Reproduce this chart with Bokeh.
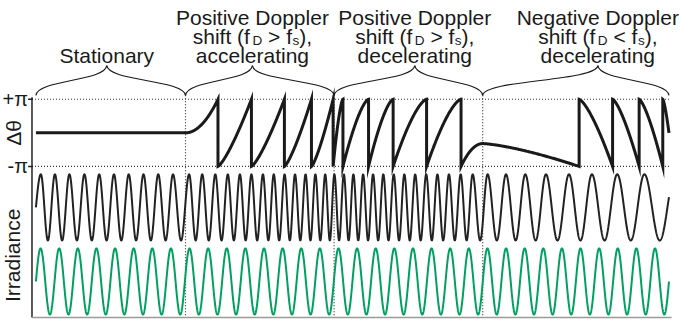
import numpy as np
from bokeh.plotting import figure
from bokeh.models import Range1d, ColumnDataSource
from bokeh.core.properties import value
from bokeh.embed import file_html
from bokeh.resources import INLINE

# ---------------- data (x = time, arbitrary units) ----------------
section_edges = [40, 192, 343, 494, 683.3]
header_titles = ["Stationary", "Positive Doppler", "Positive Doppler", "Negative Doppler"]
header_relation = [None, ">", ">", "<"]
header_motion = [None, "accelerating", "decelerating", "decelerating"]

# phase difference: piecewise segments (values in units of pi)
dtheta_x0 = [40, 192, 225, 259, 292.5, 320, 342, 352, 378, 403, 437, 472, 494, 592, 626, 653, 677]
dtheta_x1 = [192, 225, 259, 292.5, 320, 342, 352, 378, 403, 437, 472, 494, 592, 626, 653, 677, 683.3]
dtheta_v0 = [0, 0, -1, -1, -1, -1, -1, -1, -1, -1, -1, -1, -0.32, 1, 1, 1, 1]
dtheta_v1 = [0, 1, 1, 1, 1, 1, 1, 1, 1, 1, 1, -0.32, -1, -1, -1, -1, 0]
dtheta_ease = ["in", "in", "in", "in", "in", "in", "out", "out", "out", "out", "out", "out",
               "in", "in", "in", "in", "in"]
dtheta_power = [1, 2, 1.3, 1.3, 1.3, 1.3, 1.5, 1.5, 1.5, 1.5, 1.5, 2, 1.4, 1.4, 1.4, 1.4, 1.4]

# signal irradiance (black): positions of its maxima
black_peaks = [45, 59.3, 74, 89.3, 104.3, 119.3, 134.3, 149.3, 164.3, 179.3,
               195.7, 209, 222.3, 235, 247.3, 259, 270.7, 281.7, 292.7, 303.3, 314, 324, 334, 343.3,
               352.9, 362.6, 372.5, 382.6, 393.0, 403.6, 414.4, 425.4, 436.6, 448.0, 459.7, 471.6, 483.8,
               499, 517.7, 537.3, 558.3, 581.7, 605, 630.7, 658.3]
black_start, black_end = 40, 683.3
black_end_extra_cycles = 0.8

# reference irradiance (green): constant frequency
green_start, green_end, green_cycles = 40, 683.3, 34

# ---------------- layout ----------------
X0, X1 = 4, 694
Y_BOT, Y_TOP = 335, 12
p = figure(width=679, height=319, x_range=Range1d(X0, X1), y_range=Range1d(Y_BOT, Y_TOP),
           output_backend="svg", toolbar_location=None, min_border=0,
           x_axis_type=None, y_axis_type=None)
p.outline_line_color = None
p.background_fill_color = "white"
p.border_fill_color = "white"


def band(v_top, v_bot, y_top, y_bot, frame_top=Y_TOP, frame_bot=Y_BOT):
    k = (v_top - v_bot) / (y_bot - y_top)
    return Range1d(start=v_bot - (frame_bot - y_bot) * k, end=v_top + (y_top - frame_top) * k)


p.extra_y_ranges = {
    "dtheta": band(np.pi, -np.pi, 112, 180),
    "black": band(1, -1, 188, 255),
    "green": band(1, -1, 263, 330),
}

AX_X = 36
RIGHT_X = 685
PANEL_TOP, PANEL_BOT = 110, 333
INK = "#1a1a1a"
FONT = value("Liberation Sans")

# dotted guides
p.segment(x0=section_edges[1:4], x1=section_edges[1:4], y0=[108] * 3, y1=[PANEL_BOT] * 3,
          line_color="#333333", line_width=1.2, line_dash="1 2")
p.segment(x0=[AX_X, AX_X], x1=[RIGHT_X, RIGHT_X], y0=[np.pi, -np.pi], y1=[np.pi, -np.pi],
          y_range_name="dtheta", line_color="#333333", line_width=1.2, line_dash="1 2")

# axes lines
p.segment(x0=[AX_X], x1=[AX_X], y0=[PANEL_TOP], y1=[PANEL_BOT], line_color="#222222", line_width=1.5)
p.segment(x0=[AX_X], x1=[686], y0=[PANEL_BOT], y1=[PANEL_BOT], line_color="#9a9a9a", line_width=1.5)
p.segment(x0=[32, 32], x1=[AX_X + 1, AX_X + 1], y0=[np.pi, -np.pi], y1=[np.pi, -np.pi],
          y_range_name="dtheta", line_color="#222222", line_width=1.5)
p.text(x=[32, 32], y=[np.pi, -np.pi], text=["+π", "-π"], y_range_name="dtheta",
       text_align="right", text_baseline="middle", text_font_size="20px",
       text_font=FONT, text_color=INK)

# axis titles (rotated)
p.text(x=[17], y=[146], text=["Δθ"], angle=np.pi / 2, text_align="center",
       text_baseline="middle", text_font_size="21px", text_font=FONT, text_color=INK)
p.text(x=[16], y=[270], text=["Irradiance"], angle=np.pi / 2, text_align="center",
       text_baseline="middle", text_font_size="21px", text_font=FONT, text_color=INK)

# phase difference curve
dx, dy = [], []
for x0, x1, v0, v1, ease, pw in zip(dtheta_x0, dtheta_x1, dtheta_v0, dtheta_v1, dtheta_ease, dtheta_power):
    s = np.linspace(0, 1, 120)
    f = s ** pw if ease == "in" else 1 - (1 - s) ** pw
    dx.extend(x0 + (x1 - x0) * s)
    dy.extend(np.pi * (v0 + (v1 - v0) * f))
p.line(dx, dy, y_range_name="dtheta", line_color=INK, line_width=3, line_join="miter")

# black irradiance
knot_x = [black_start] + black_peaks + [black_end]
knot_c = [0] + [k + 0.25 for k in range(len(black_peaks))] + [len(black_peaks) - 0.75 + black_end_extra_cycles]
bx = np.linspace(black_start, black_end, 4000)
by = np.sin(2 * np.pi * np.interp(bx, knot_x, knot_c))
p.line(bx, by, y_range_name="black", line_color="#222222", line_width=2)

# green irradiance
gx = np.linspace(green_start, green_end, 4000)
gy = np.sin(2 * np.pi * green_cycles * (gx - green_start) / (green_end - green_start))
p.line(gx, gy, y_range_name="green", line_color="#00a060", line_width=2)

# braces
brace_tip_x = [112, 260, 425, 611]
END_Y, TIP_Y = 108, 78
bz = dict(x0=[], y0=[], x1=[], y1=[], cx0=[], cy0=[], cx1=[], cy1=[])
for i, xt in enumerate(brace_tip_x):
    xa = section_edges[i]
    xb = section_edges[i + 1]
    for xe, sgn in ((xa, 1), (xb, -1)):
        bz["x0"].append(xe); bz["y0"].append(END_Y)
        bz["cx0"].append(xe + 2 * sgn); bz["cy0"].append(92)
        bz["cx1"].append(xt - 2 * sgn); bz["cy1"].append(94)
        bz["x1"].append(xt); bz["y1"].append(TIP_Y)
p.bezier(source=ColumnDataSource(bz), x0="x0", y0="y0", x1="x1", y1="y1",
         cx0="cx0", cy0="cy0", cx1="cx1", cy1="cy1", line_color=INK, line_width=1.2)

# headers
MAIN = 21.0
SUB = 13.5
W_ARIAL = {"s": 500, "h": 556, "i": 222, "f": 278, "t": 278, " ": 278, "(": 333, ")": 333,
           ">": 584, "<": 584, ",": 278, "D": 722}


def tw(txt, size):
    return sum(W_ARIAL[c] for c in txt) * size / 1000.0


txt = dict(x=[], y=[], text=[], size=[], xo=[], yo=[], align=[])


def add(x, y, t, size, xo, yo, align):
    txt["x"].append(x); txt["y"].append(y); txt["text"].append(t)
    txt["size"].append(f"{size}px"); txt["xo"].append(xo); txt["yo"].append(yo); txt["align"].append(align)


SPACE = tw(" ", MAIN)
for i, xt in enumerate(brace_tip_x):
    if header_relation[i] is None:
        add(xt, 68, header_titles[i], MAIN, 0, 0, "center")
        continue
    add(xt, 29, header_titles[i], MAIN, 0, 0, "center")
    add(xt, 68, header_motion[i], MAIN, 0, 0, "center")
    # (text, size, gap before, vertical shift)
    pieces = [("shift (f", MAIN, 0, 0), ("D", SUB, 2.5, 4), (f"{header_relation[i]} f", MAIN, SPACE, 0),
              ("s", SUB, 0.5, 4), ("),", MAIN, 0, 0)]
    total = sum(tw(t, s) + g for t, s, g, _ in pieces)
    cur = -total / 2
    for t, s, g, yo in pieces:
        cur += g
        add(xt, 48, t, s, cur, yo, "left")
        cur += tw(t, s)

p.text(source=ColumnDataSource(txt), x="x", y="y", text="text", text_font_size="size",
       x_offset="xo", y_offset="yo", text_align="align", text_baseline="alphabetic",
       text_font=FONT, text_color=INK)

open("out.html", "w").write(file_html(p, INLINE))
